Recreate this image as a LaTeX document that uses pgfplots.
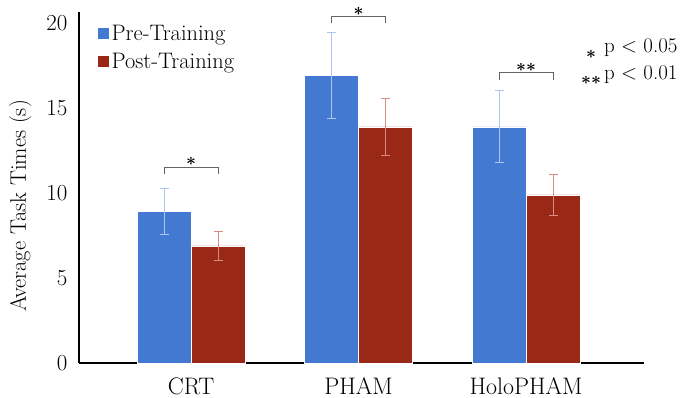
\documentclass[border=0pt]{standalone}
\usepackage{fontspec}
\usepackage{pgfplots}
\pgfplotsset{compat=1.18}
\definecolor{preblue}{RGB}{68,121,210}
\definecolor{postred}{RGB}{153,41,22}
\definecolor{preerr}{RGB}{170,198,238}
\definecolor{posterr}{RGB}{214,140,128}
\definecolor{brk}{RGB}{100,100,100}
\newcommand{\txt}{\fontsize{22.5}{26}\selectfont}
\newcommand{\tck}{\fontsize{23}{26}\selectfont}
\newcommand{\ctck}{\fontsize{24}{27}\selectfont}
\newcommand{\ptxt}{\fontsize{21}{24}\selectfont}
\newcommand{\st}{\fontsize{18}{20}\selectfont\boldmath}
\begin{document}
\begin{tikzpicture}
\begin{axis}[
  at={(0,0)}, anchor=south west,
  scale only axis, width=565bp, height=351.3bp,
  xmin=-0.669, xmax=2.704, ymin=0, ymax=20.7,
  ybar=0pt, bar width=54bp,
  axis x line=bottom, axis y line=left,
  axis line style={-, line width=2.4bp, black},
  xtick=data, xticklabels={CRT,PHAM,HoloPHAM},
  ytick={0,5,10,15,20},
  major tick length=0pt,
  /pgf/number format/assume math mode=true,
  xticklabel style={yshift=-11bp, font=\ctck},
  yticklabel style={xshift=-8bp, font=\tck},
  ylabel={Average Task Times (s)},
  ylabel style={font=\txt, at={(rel axis cs:-0.104,0.447)}, anchor=center},
  legend style={at={(rel axis cs:0.032,0.968)}, anchor=north west, draw=none, fill=none,
    font=\txt, row sep=7bp, inner sep=0pt},
  legend cell align=left,
  legend image code/.code={\fill[#1] (0bp,-6bp) rectangle (12bp,6bp);},
  clip=false,
]
\addplot[fill=preblue, draw=white, line width=0.4pt,
  error bars/.cd, y dir=both, y explicit,
  error bar style={color=preerr, line width=0.8pt},
  error mark options={rotate=90, mark size=4.5bp, color=preerr, line width=0.8pt}]
  coordinates {(0,8.93) +- (0,1.35) (1,16.95) +- (0,2.55) (2,13.92) +- (0,2.12)};
\addplot[fill=postred, draw=white, line width=0.4pt,
  error bars/.cd, y dir=both, y explicit,
  error bar style={color=posterr, line width=0.8pt},
  error mark options={rotate=90, mark size=4.5bp, color=posterr, line width=0.8pt}]
  coordinates {(0,6.9) +- (0,0.83) (1,13.92) +- (0,1.69) (2,9.9) +- (0,1.2)};
\legend{Pre-Training, Post-Training}
% significance brackets
\draw[brk, line width=0.8pt] (axis cs:-0.161,11.14) -- (axis cs:-0.161,11.55) -- (axis cs:0.161,11.55) -- (axis cs:0.161,11.14);
\node[anchor=center, inner sep=0pt, font=\st] at (axis cs:0,11.85) {$\ast$};
\draw[brk, line width=0.8pt] (axis cs:0.839,20.02) -- (axis cs:0.839,20.45) -- (axis cs:1.161,20.45) -- (axis cs:1.161,20.02);
\node[anchor=center, inner sep=0pt, font=\st] at (axis cs:1,20.7) {$\ast$};
\draw[brk, line width=0.8pt] (axis cs:1.839,16.68) -- (axis cs:1.839,17.1) -- (axis cs:2.161,17.1) -- (axis cs:2.161,16.68);
\node[anchor=center, inner sep=0pt, font=\st] at (axis cs:2,17.4) {$\ast\ast$};
% p-value key
\node[anchor=center, inner sep=0pt, font=\st] at (axis cs:2.388,18.2) {$\ast$};
\node[anchor=west, inner sep=0pt, font=\ptxt] at (axis cs:2.465,18.56) {p < 0.05};
\node[anchor=center, inner sep=0pt, font=\st] at (axis cs:2.388,16.65) {$\ast\ast$};
\node[anchor=west, inner sep=0pt, font=\ptxt] at (axis cs:2.465,16.97) {p < 0.01};
\end{axis}
\pgfresetboundingbox
\path[use as bounding box] (-79bp,-35bp) rectangle (604bp,363bp);
\end{tikzpicture}
\end{document}
